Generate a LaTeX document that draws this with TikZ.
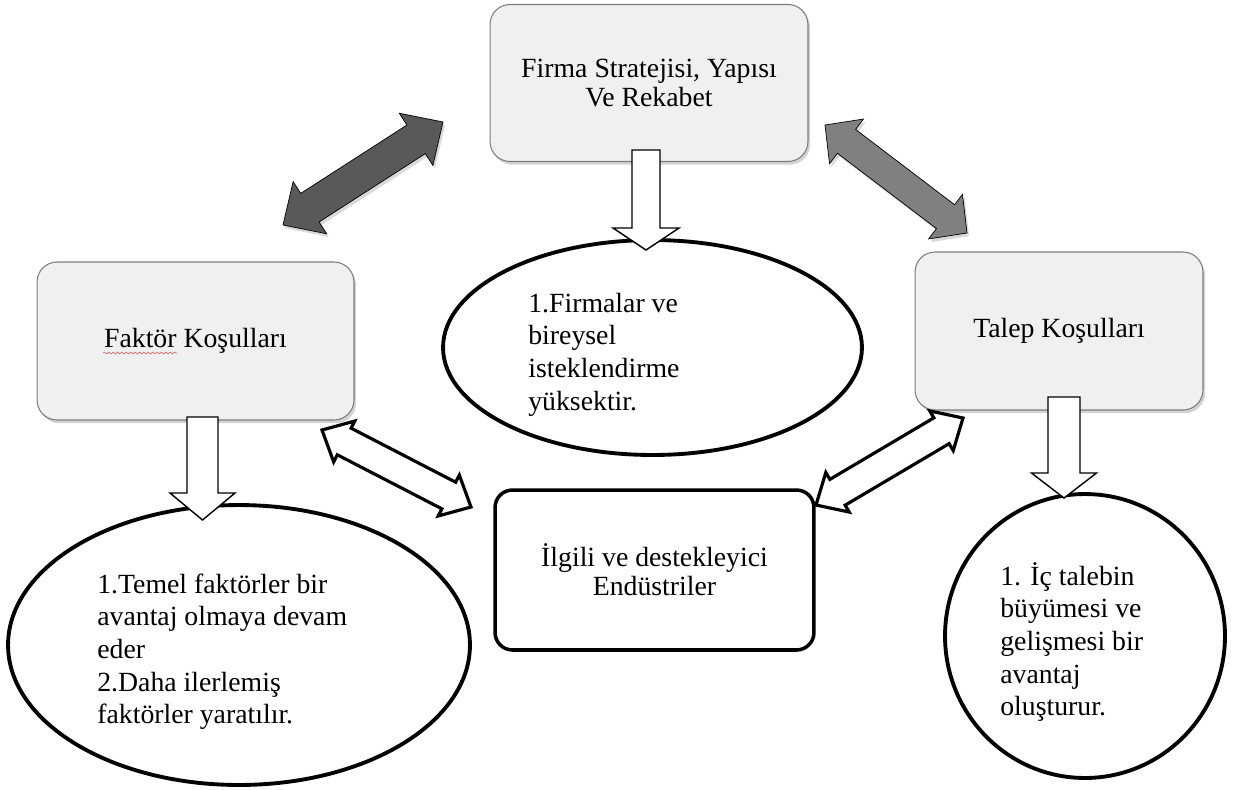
\documentclass[tikz,border=0pt]{standalone}
\usepackage{fontspec}
\setmainfont{Liberation Serif}
\usetikzlibrary{calc,shadows,shapes.geometric,decorations.pathmorphing}

\definecolor{boxgray}{RGB}{240,240,240}
\definecolor{edgegray}{RGB}{125,125,125}
\definecolor{darkarrow}{RGB}{89,89,89}
\definecolor{lightarrow}{RGB}{128,128,128}
\definecolor{spellred}{RGB}{225,110,110}

\newcommand{\boxfont}{\fontsize{15.8}{16.5}\selectfont}
\newcommand{\notefont}{\fontsize{15.8}{18.6}\selectfont}

% style, from, to, shaft half width, head half width, head length
\newcommand{\twowayarrow}[6]{%
	\coordinate (ha) at ($(#2)!#6!(#3)$);
	\coordinate (hb) at ($(#3)!#6!(#2)$);
	\draw[#1] (#2) -- ($(ha)!#5!90:(#3)$) -- ($(ha)!#4!90:(#3)$) -- ($(hb)!#4!-90:(#2)$) -- ($(hb)!#5!-90:(#2)$) -- (#3)
		-- ($(hb)!#5!90:(#2)$) -- ($(hb)!#4!90:(#2)$) -- ($(ha)!#4!-90:(#3)$) -- ($(ha)!#5!-90:(#3)$) -- cycle;
}
\newcommand{\onewayarrow}[6]{%
	\coordinate (hb) at ($(#3)!#6!(#2)$);
	\draw[#1] ($(#2)!#4!90:(#3)$) -- ($(hb)!#4!-90:(#2)$) -- ($(hb)!#5!-90:(#2)$) -- (#3)
		-- ($(hb)!#5!90:(#2)$) -- ($(hb)!#4!90:(#2)$) -- ($(#2)!#4!-90:(#3)$) -- cycle;
}

\begin{document}
\begin{tikzpicture}[x=0.02cm, y=-0.02cm,
	softbox/.style={draw=edgegray, line width=0.6pt, fill=boxgray, rounded corners=0.4cm, inner sep=0pt,
		align=center, font=\boxfont, drop shadow={shadow xshift=1.2pt, shadow yshift=-1.8pt, opacity=0.35}},
	hardbox/.style={draw, line width=2pt, fill=white, rounded corners=0.35cm, inner sep=0pt,
		align=center, font=\boxfont},
	oval/.style={ellipse, draw, line width=2.2pt, fill=white, inner sep=0pt},
	note/.style={align=flush left, font=\notefont, inner sep=0pt, anchor=base west},
	hollow/.style={draw, line width=0.8pt, fill=white},
	bold hollow/.style={draw, line width=1.8pt, fill=white, line join=miter},
	grayarrow/.style={fill=#1, drop shadow={shadow xshift=1.2pt, shadow yshift=-1.8pt, opacity=0.3}}]
	\useasboundingbox (0,0) rectangle (1237,789);

	% the four conditions
	\node[softbox, minimum width=6.36cm, minimum height=3.14cm] (firma) at (649,83) {Firma Stratejisi, Yapısı\\Ve Rekabet};
	\node[softbox, minimum width=6.34cm, minimum height=3.16cm] (faktor) at (195.5,341) {Faktör Koşulları};
	\node[softbox, minimum width=5.76cm, minimum height=3.16cm] (talep) at (1059,331) {Talep Koşulları};
	\node[hardbox, minimum width=6.38cm, minimum height=3.2cm] (ilgili) at (654.5,570) {İlgili ve destekleyici\\Endüstriler};
	\draw[spellred, line width=0.4pt, decorate, decoration={snake, segment length=2.5pt, amplitude=0.5pt}] (103,353) -- (177,353);

	% the notes
	\node[oval, minimum width=8.38cm, minimum height=4.3cm] (firmaoval) at (652.5,347.5) {};
	\node[oval, minimum width=9.24cm, minimum height=5.6cm] (faktoroval) at (239,645) {};
	\node[oval, minimum width=5.6cm, minimum height=5.68cm] (talepoval) at (1085,636) {};
	\node[note, text width=4cm] (firmanote) at (528,312) {1.Firmalar ve\\bireysel\\isteklendirme\\yüksektir.};
	\node[note, text width=5.6cm] (faktornote) at (97,593) {1.Temel faktörler bir\\avantaj olmaya devam\\eder\\2.Daha ilerlemiş\\faktörler yaratılır.};
	\node[note, text width=3.4cm] (talepnote) at (1000,585) {1. İç talebin\\büyümesi ve\\gelişmesi bir\\avantaj\\oluşturur.};

	% down arrows
	\coordinate (firma-out) at (646,150);
	\coordinate (firma-in) at (646,250);
	\coordinate (faktor-out) at (202.5,417);
	\coordinate (faktor-in) at (202.5,520);
	\coordinate (talep-out) at (1064,397);
	\coordinate (talep-in) at (1064,498);
	\onewayarrow{hollow}{firma-out}{firma-in}{0.28cm}{0.66cm}{0.44cm}
	\onewayarrow{hollow}{faktor-out}{faktor-in}{0.31cm}{0.65cm}{0.54cm}
	\onewayarrow{hollow}{talep-out}{talep-in}{0.32cm}{0.65cm}{0.5cm}

	% two way arrows
	\coordinate (dark-a) at (283,225);
	\coordinate (dark-b) at (443,122);
	\coordinate (light-a) at (825,125);
	\coordinate (light-b) at (967,233);
	\coordinate (left-a) at (322,430);
	\coordinate (left-b) at (471,507);
	\coordinate (right-a) at (816,505);
	\coordinate (right-b) at (963,418);
	\twowayarrow{grayarrow=darkarrow}{dark-a}{dark-b}{0.34cm}{0.62cm}{0.64cm}
	\twowayarrow{grayarrow=lightarrow}{light-a}{light-b}{0.3cm}{0.56cm}{0.54cm}
	\twowayarrow{bold hollow}{left-a}{left-b}{0.3cm}{0.46cm}{0.5cm}
	\twowayarrow{bold hollow}{right-a}{right-b}{0.3cm}{0.46cm}{0.5cm}
\end{tikzpicture}
\end{document}
